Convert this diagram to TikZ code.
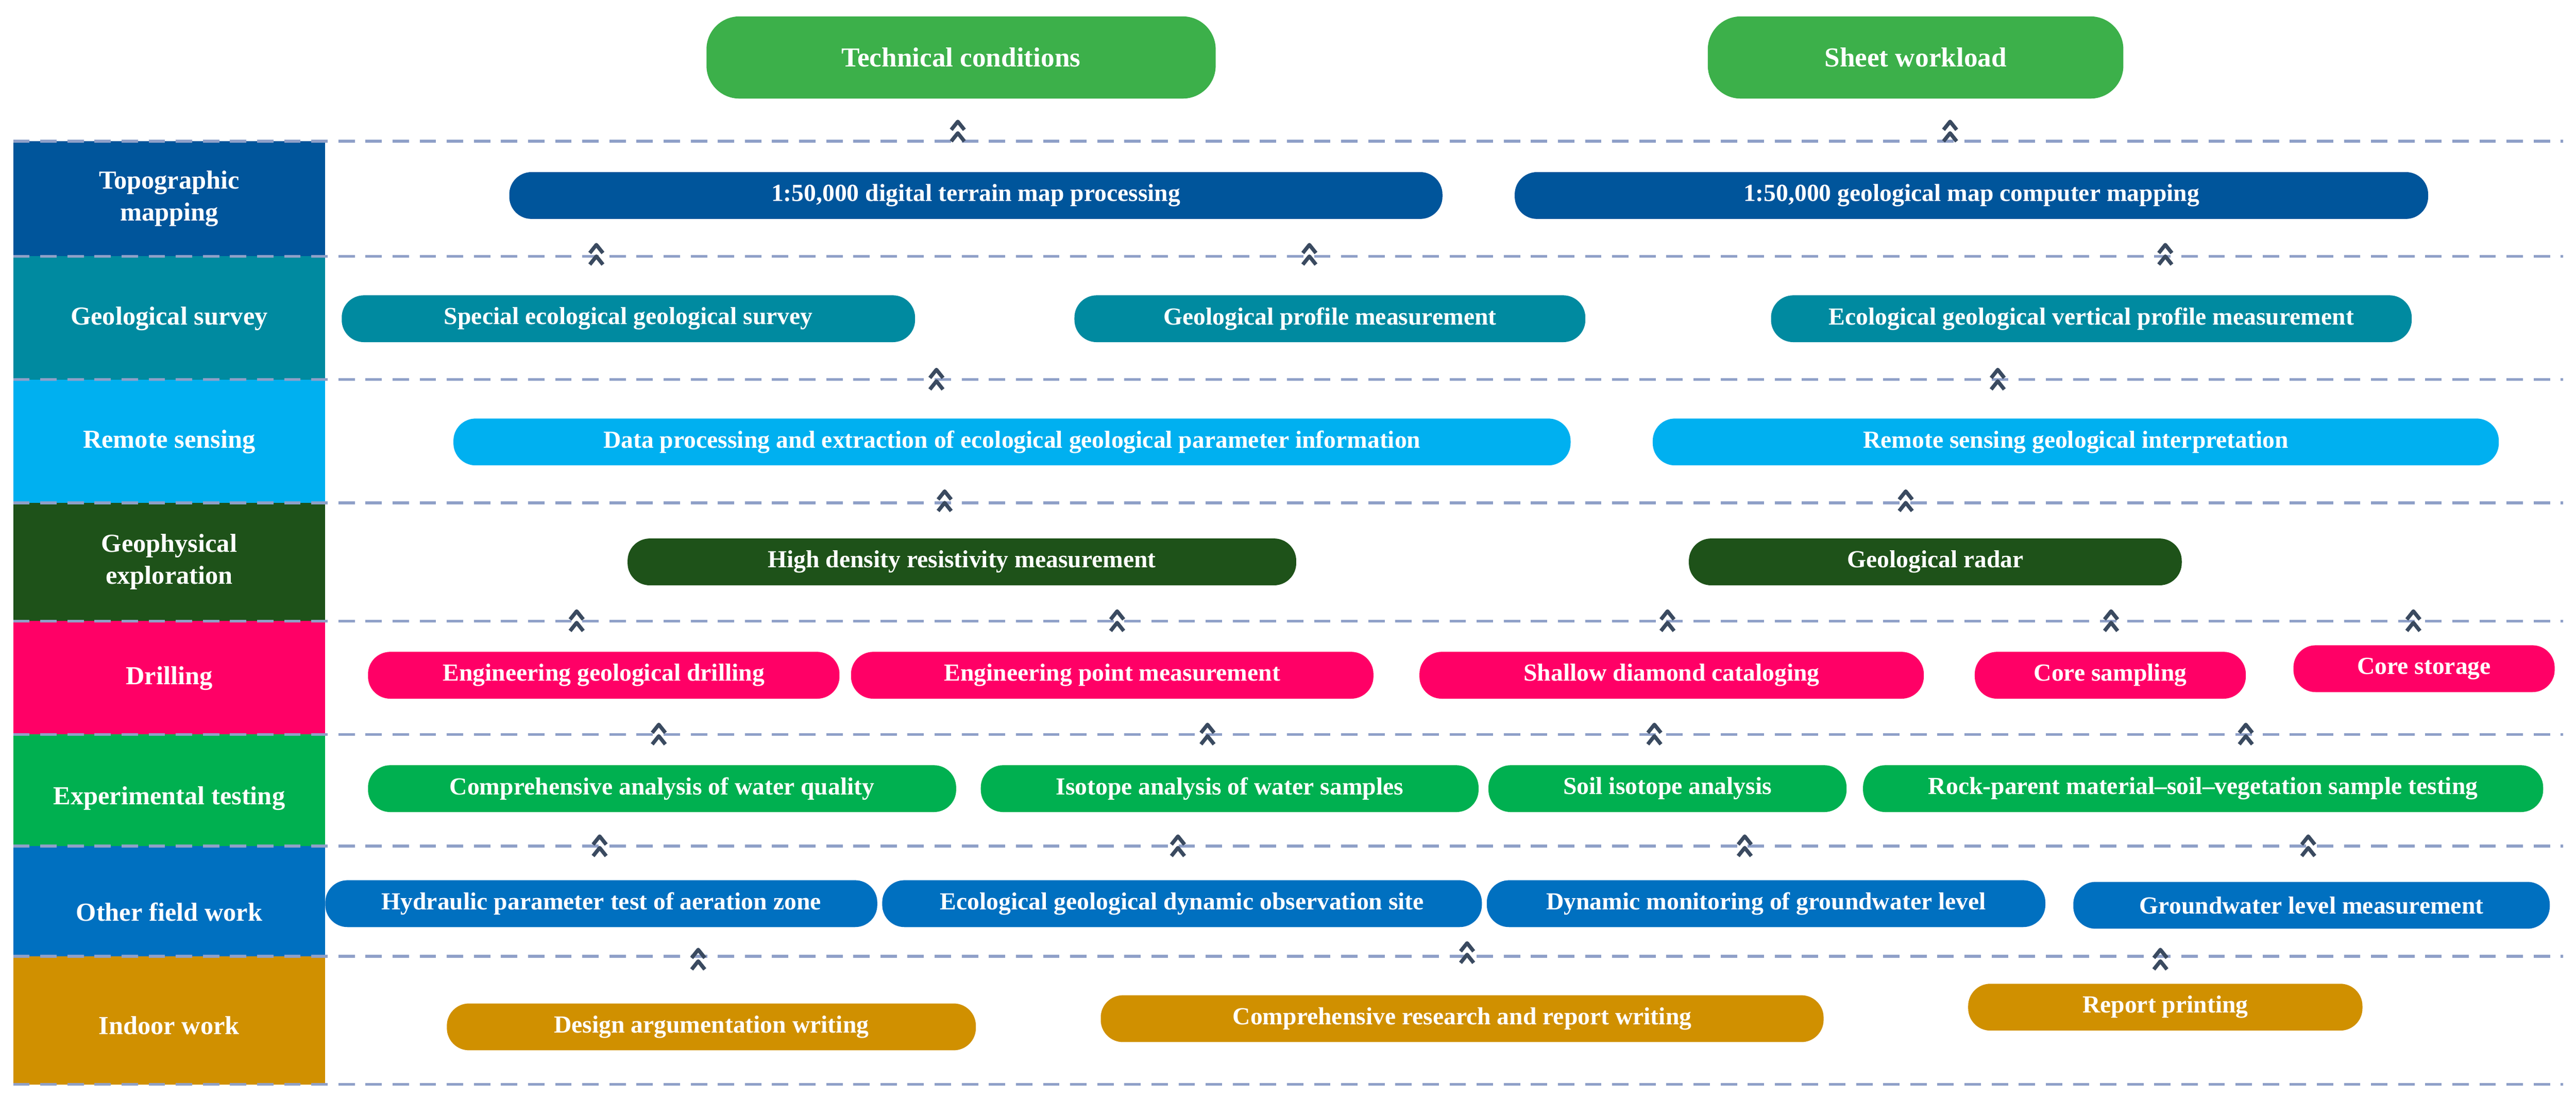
\documentclass[tikz,border=0pt]{standalone}
\usepackage{fontspec}
\setmainfont{Liberation Serif}
\usetikzlibrary{positioning}
\definecolor{topoC}{HTML}{00559B}
\definecolor{geoC}{HTML}{008AA0}
\definecolor{remC}{HTML}{00B0F0}
\definecolor{physC}{HTML}{1E5219}
\definecolor{drillC}{HTML}{FF0066}
\definecolor{testC}{HTML}{00B050}
\definecolor{fieldC}{HTML}{0070C0}
\definecolor{indoorC}{HTML}{D09000}
\definecolor{headC}{HTML}{3CB04A}
\definecolor{chevC}{HTML}{3A4A60}
\definecolor{sepC}{HTML}{8FA0C8}
\tikzset{
  task/.style={rounded corners=0.27cm, minimum height=0.57cm, inner sep=1pt, text=white, font=\fontsize{8.5}{10}\selectfont\bfseries},
  head/.style={rounded corners=0.4cm, minimum height=1cm, text=white, fill=headC, font=\fontsize{9.5}{11}\selectfont\bfseries},
  stage/.style={text=white, align=center, font=\fontsize{9}{11}\selectfont\bfseries},
  sep/.style={sepC, line width=1pt, dash pattern=on 0.2cm off 0.13cm}
}
\newcommand{\chev}[2]{%
  \draw[chevC, line width=1.3pt, line join=round] (#1-4,#2-1) -- (#1,#2-6) -- (#1+4,#2-1);
  \draw[chevC, line width=1.3pt, line join=round] (#1-4,#2+6) -- (#1,#2+1) -- (#1+4,#2+6);}
% one task box: name, x from, x to, y centre, colour, text
\newcommand{\task}[6]{%
  \node[task, fill=#5, minimum width={(#3-#2)*0.02cm}] (#1) at ({(#2+#3)/2},#4) {#6};}
\begin{document}
\begin{tikzpicture}[x=0.02cm, y=-0.02cm]
  \useasboundingbox (0,0) rectangle (1568,668);

  % stage column
  \fill[topoC] (8,86) rectangle (198,156);
  \fill[geoC] (8,156) rectangle (198,231);
  \fill[remC] (8,231) rectangle (198,306);
  \fill[physC] (8,306) rectangle (198,378);
  \fill[drillC] (8,378) rectangle (198,447);
  \fill[testC] (8,447) rectangle (198,515);
  \fill[fieldC] (8,515) rectangle (198,582);
  \fill[indoorC] (8,582) rectangle (198,660);
  \node[stage] (topo) at (103,121) {Topographic\\mapping};
  \node[stage] (geo) at (103,194) {Geological survey};
  \node[stage] (rem) at (103,269) {Remote sensing};
  \node[stage] (phys) at (103,342) {Geophysical\\exploration};
  \node[stage] (drill) at (103,413) {Drilling};
  \node[stage] (test) at (103,486) {Experimental testing};
  \node[stage] (field) at (103,555) {Other field work};
  \node[stage] (indoor) at (103,624) {Indoor work};

  % separators
  \foreach \y in {86,156,231,306,378,447,515,582,660}
    \draw[sep] (8,\y) -- (1560,\y);

  % heads
  \node[head, minimum width=6.2cm] (tech) at (585,35) {Technical conditions};
  \node[head, minimum width=5.06cm] (sheet) at (1166,35) {Sheet workload};

  % tasks
  \task{dtm}{310}{878}{119}{topoC}{1:50,000 digital terrain map processing}
  \task{gmap}{922}{1478}{119}{topoC}{1:50,000 geological map computer mapping}
  \task{special}{208}{557}{194}{geoC}{Special ecological geological survey}
  \task{profile}{654}{965}{194}{geoC}{Geological profile measurement}
  \task{vprofile}{1078}{1468}{194}{geoC}{Ecological geological vertical profile measurement}
  \task{dataproc}{276}{956}{269}{remC}{Data processing and extraction of ecological geological parameter information}
  \task{interp}{1006}{1521}{269}{remC}{Remote sensing geological interpretation}
  \task{resist}{382}{789}{342}{physC}{High density resistivity measurement}
  \task{radar}{1028}{1328}{342}{physC}{Geological radar}
  \task{engdrill}{224}{511}{411}{drillC}{Engineering geological drilling}
  \task{engpoint}{518}{836}{411}{drillC}{Engineering point measurement}
  \task{diamond}{864}{1171}{411}{drillC}{Shallow diamond cataloging}
  \task{coresamp}{1202}{1367}{411}{drillC}{Core sampling}
  \task{corestore}{1396}{1555}{407}{drillC}{Core storage}
  \task{water}{224}{582}{480}{testC}{Comprehensive analysis of water quality}
  \task{isowater}{597}{900}{480}{testC}{Isotope analysis of water samples}
  \task{isosoil}{906}{1124}{480}{testC}{Soil isotope analysis}
  \task{rock}{1134}{1548}{480}{testC}{Rock-parent material--soil--vegetation sample testing}
  \task{hydro}{198}{534}{550}{fieldC}{Hydraulic parameter test of aeration zone}
  \task{obs}{537}{902}{550}{fieldC}{Ecological geological dynamic observation site}
  \task{monitor}{905}{1245}{550}{fieldC}{Dynamic monitoring of groundwater level}
  \task{gwlevel}{1262}{1552}{551}{fieldC}{Groundwater level measurement}
  \task{design}{272}{594}{625}{indoorC}{Design argumentation writing}
  \task{research}{670}{1110}{620}{indoorC}{Comprehensive research and report writing}
  \task{printing}{1198}{1438}{613}{indoorC}{Report printing}

  % chevrons
  \chev{583}{80} \chev{1187}{80}
  \chev{363}{155} \chev{797}{155} \chev{1318}{155}
  \chev{570}{231} \chev{1216}{231}
  \chev{575}{305} \chev{1160}{305}
  \foreach \x in {351,680,1015,1285,1469} {\chev{\x}{378}}
  \foreach \x in {401,735,1007,1367} {\chev{\x}{447}}
  \foreach \x in {365,717,1062,1405} {\chev{\x}{515}}
  \chev{425}{584} \chev{893}{580} \chev{1315}{584}
\end{tikzpicture}
\end{document}
